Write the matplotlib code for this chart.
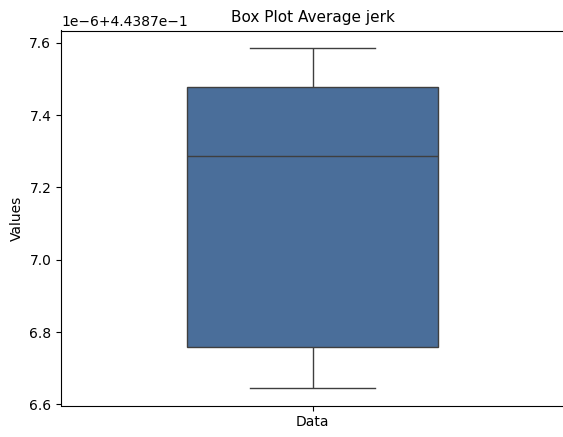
import numpy as np
import pandas as pd
import matplotlib
matplotlib.use("Agg")
import matplotlib.pyplot as plt
import seaborn as sns

# average jerk samples (offset + small deviations)
base = 0.44387
deviations = [6.644, 6.760, 7.287, 7.477, 7.587]  # in units of 1e-6
values = [base + d * 1e-6 for d in deviations]

df = pd.DataFrame({"Data": values})

fig = plt.figure(figsize=(5.63, 4.37), dpi=100)
ax = fig.add_axes([61 / 563, 1 - 405.5 / 437, 503 / 563, 375 / 437])

sns.boxplot(data=df, width=0.5, color="#4a6e9a", saturation=1, ax=ax)
ax.set_xlim(-0.5, 0.5)

ax.set_title("Box Plot Average jerk", fontsize=11)
ax.set_ylabel("Values")

fig.savefig("out.png", dpi=100)
